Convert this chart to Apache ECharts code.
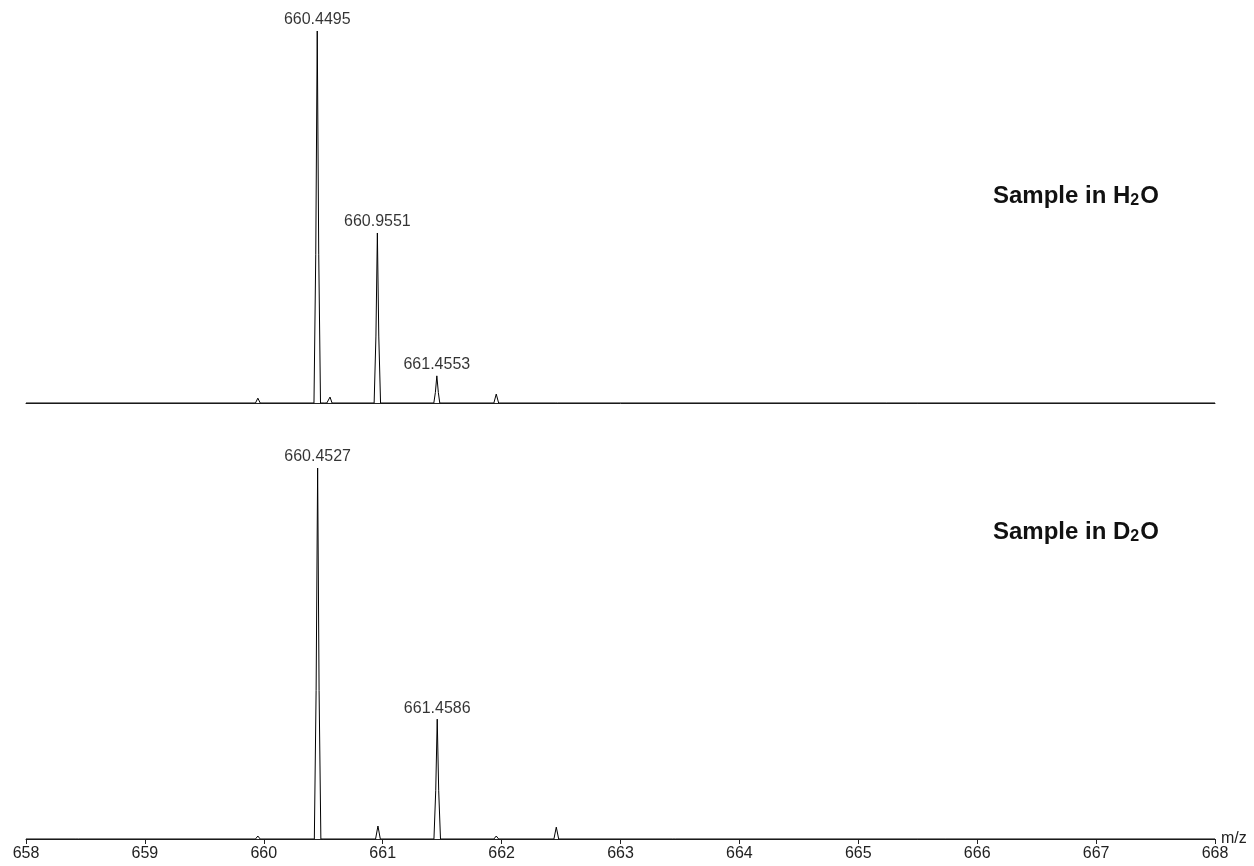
<!DOCTYPE html>
<html>
<head>
<meta charset="utf-8">
<script src="https://cdn.jsdelivr.net/npm/echarts@6/dist/echarts.min.js"></script>
<style>html,body{margin:0;padding:0;background:#fff}#c{width:1254px;height:866px}</style>
</head>
<body>
<div id="c"></div>
<script>
// m/z axis
const mzMin = 658, mzMax = 668, mzStep = 1;
const axisName = 'm/z';

// Sample in H2O: profile points [m/z, relative intensity %]
const h2oProfile = [
  [658.0,0],[659.93,0],[659.95,1.3],[659.97,0],
  [660.422,0],[660.437,40],[660.4495,100],[660.462,40],[660.477,0],
  [660.51,0],[660.52,0.5],[660.53,0],
  [660.54,0],[660.557,1.6],[660.574,0],
  [660.928,0],[660.943,18],[660.9551,45.7],[660.967,18],[660.982,0],
  [661.43,0],[661.443,2.8],[661.4553,7.3],[661.468,2.8],[661.48,0],
  [661.935,0],[661.955,2.4],[661.975,0],
  [662.45,0],[662.46,0.3],[662.47,0],
  [668.0,0]
];
// labelled peaks in H2O
const h2oLabels = [[660.4495,100],[660.9551,45.7],[661.4553,7.3]];

// Sample in D2O
const d2oProfile = [
  [658.0,0],[658.42,0],[658.43,0.3],[658.44,0],
  [659.93,0],[659.95,0.8],[659.97,0],
  [660.425,0],[660.44,40],[660.4527,100],[660.465,40],[660.48,0],
  [660.94,0],[660.96,3.5],[660.98,0],
  [661.431,0],[661.446,13],[661.4586,32.3],[661.471,13],[661.486,0],
  [661.935,0],[661.955,0.8],[661.975,0],
  [662.44,0],[662.46,3.2],[662.48,0],
  [663.44,0],[663.45,0.2],[663.46,0],
  [668.0,0]
];
const d2oLabels = [[660.4527,100],[661.4586,32.3]];

const titles = [
  {pre:'Sample in ', el:'H', sub:'2', post:'O'},
  {pre:'Sample in ', el:'D', sub:'2', post:'O'}
];

const chart = echarts.init(document.getElementById('c'), null, {renderer:'canvas'});
const fontFam = '"Liberation Sans", Arial, sans-serif';

function xAx(idx, showLabels){
  return {
    type:'value', gridIndex:idx, min:mzMin, max:mzMax, interval:mzStep,
    axisLine:{show:true, lineStyle:{color:'#222', width:1}},
    axisTick:{show:showLabels, inside:false, length:5, lineStyle:{color:'#222'}},
    axisLabel:{show:showLabels, fontSize:16, color:'#222', fontFamily:fontFam, margin:7},
    splitLine:{show:false},
    name: showLabels ? axisName : '',
    nameLocation:'end', nameGap:6, nameMoveOverlap:false,
    nameTextStyle:{fontSize:16, color:'#222', fontFamily:fontFam, padding:[10,0,0,0]}
  };
}
function yAx(idx){
  return {type:'value', gridIndex:idx, min:0, max:100, show:false};
}
function labelSeries(idx, data){
  return {
    type:'scatter', xAxisIndex:idx, yAxisIndex:idx, data:data, symbolSize:0,
    silent:true,
    label:{show:true, position:'top', distance:3, fontSize:16, color:'#000', fontFamily:fontFam,
      formatter:p=>p.value[0].toFixed(4)}
  };
}
function lineSeries(idx, data){
  return {
    type:'line', xAxisIndex:idx, yAxisIndex:idx, data:data, showSymbol:false, symbol:'none',
    lineStyle:{color:'#000', width:1}, animation:false
  };
}
function titleText(t, y){
  return {
    type:'text', left:993, top:y,
    style:{
      text:'{a|'+t.pre+t.el+'}{s|'+t.sub+'}{a|'+t.post+'}',
      rich:{
        a:{fontSize:24, fontWeight:'bold', fontFamily:fontFam, fill:'#111', lineHeight:26},
        s:{fontSize:16, fontWeight:'bold', fontFamily:fontFam, fill:'#111', lineHeight:14, verticalAlign:'bottom', padding:[0,1,0,0]}
      }
    }
  };
}

chart.setOption({
  animation:false,
  grid:[
    {left:26, right:39, top:31, height:372, containLabel:false, outerBoundsMode:'none'},
    {left:26, right:39, top:468, height:371, containLabel:false, outerBoundsMode:'none'}
  ],
  xAxis:[xAx(0,false), xAx(1,true)],
  yAxis:[yAx(0), yAx(1)],
  series:[
    lineSeries(0, h2oProfile), labelSeries(0, h2oLabels),
    lineSeries(1, d2oProfile), labelSeries(1, d2oLabels)
  ],
  graphic:[titleText(titles[0], 184), titleText(titles[1], 520)]
});
</script>
</body>
</html>
